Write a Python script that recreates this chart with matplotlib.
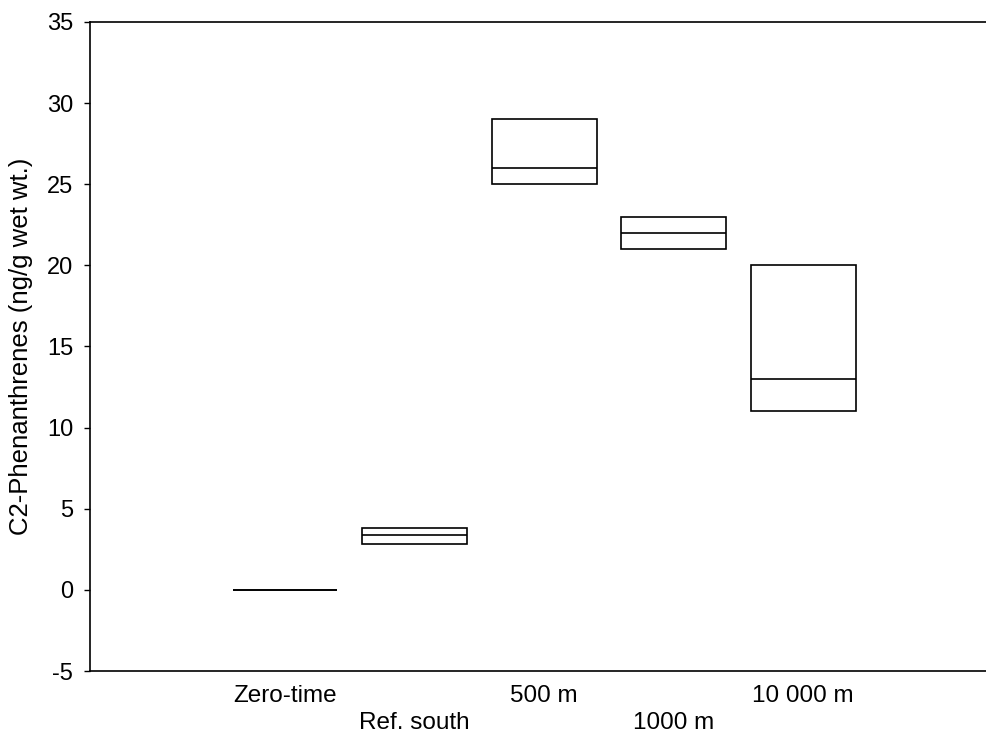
import matplotlib
matplotlib.use('Agg')
from matplotlib import pyplot as plt
import numpy as np

plt.rcParams['font.family'] = ['Liberation Sans', 'DejaVu Sans']
plt.rcParams['axes.unicode_minus'] = False

sites = ['Zero-time', 'Ref. south', '500 m', '1000 m', '10 000 m']
lows = [0, 2.8, 25, 21, 11]
medians = [0, 3.4, 26, 22, 13]
highs = [0, 3.8, 29, 23, 20]

fig = plt.figure(figsize=(9.87, 7.4), dpi=100)
ax = fig.add_axes([90/987, 1 - 671/740, 1 - 90/987, (671 - 22)/740])

x = np.arange(len(sites))
lows = np.array(lows, dtype=float)
highs = np.array(highs, dtype=float)
w = 0.81
ax.bar(x, highs - lows, bottom=lows, width=w, fill=False, edgecolor='black', linewidth=1.2)
ax.hlines(medians, x - w/2, x + w/2, color='black', linewidth=1.2)

ax.set_xlim(-1.506, 5.42)
ax.set_ylim(-5, 35)
ax.set_yticks(np.arange(-5, 36, 5))
ax.set_xticks(x)
labels = [s if i % 2 == 0 else '\n' + s for i, s in enumerate(sites)]
ax.set_xticklabels(labels, fontsize=17.5, linespacing=1.3)
ax.tick_params(axis='x', length=0, pad=10)
ax.tick_params(axis='y', direction='out', length=4, labelsize=17, width=1, pad=8)
ax.spines['right'].set_visible(False)
for s in ['left', 'top', 'bottom']:
    ax.spines[s].set_linewidth(1.2)
ax.set_ylabel('C2-Phenanthrenes (ng/g wet wt.)', fontsize=18.5)
ax.yaxis.set_label_coords(-0.064, 0.5)

fig.savefig('out.png', dpi=100)
